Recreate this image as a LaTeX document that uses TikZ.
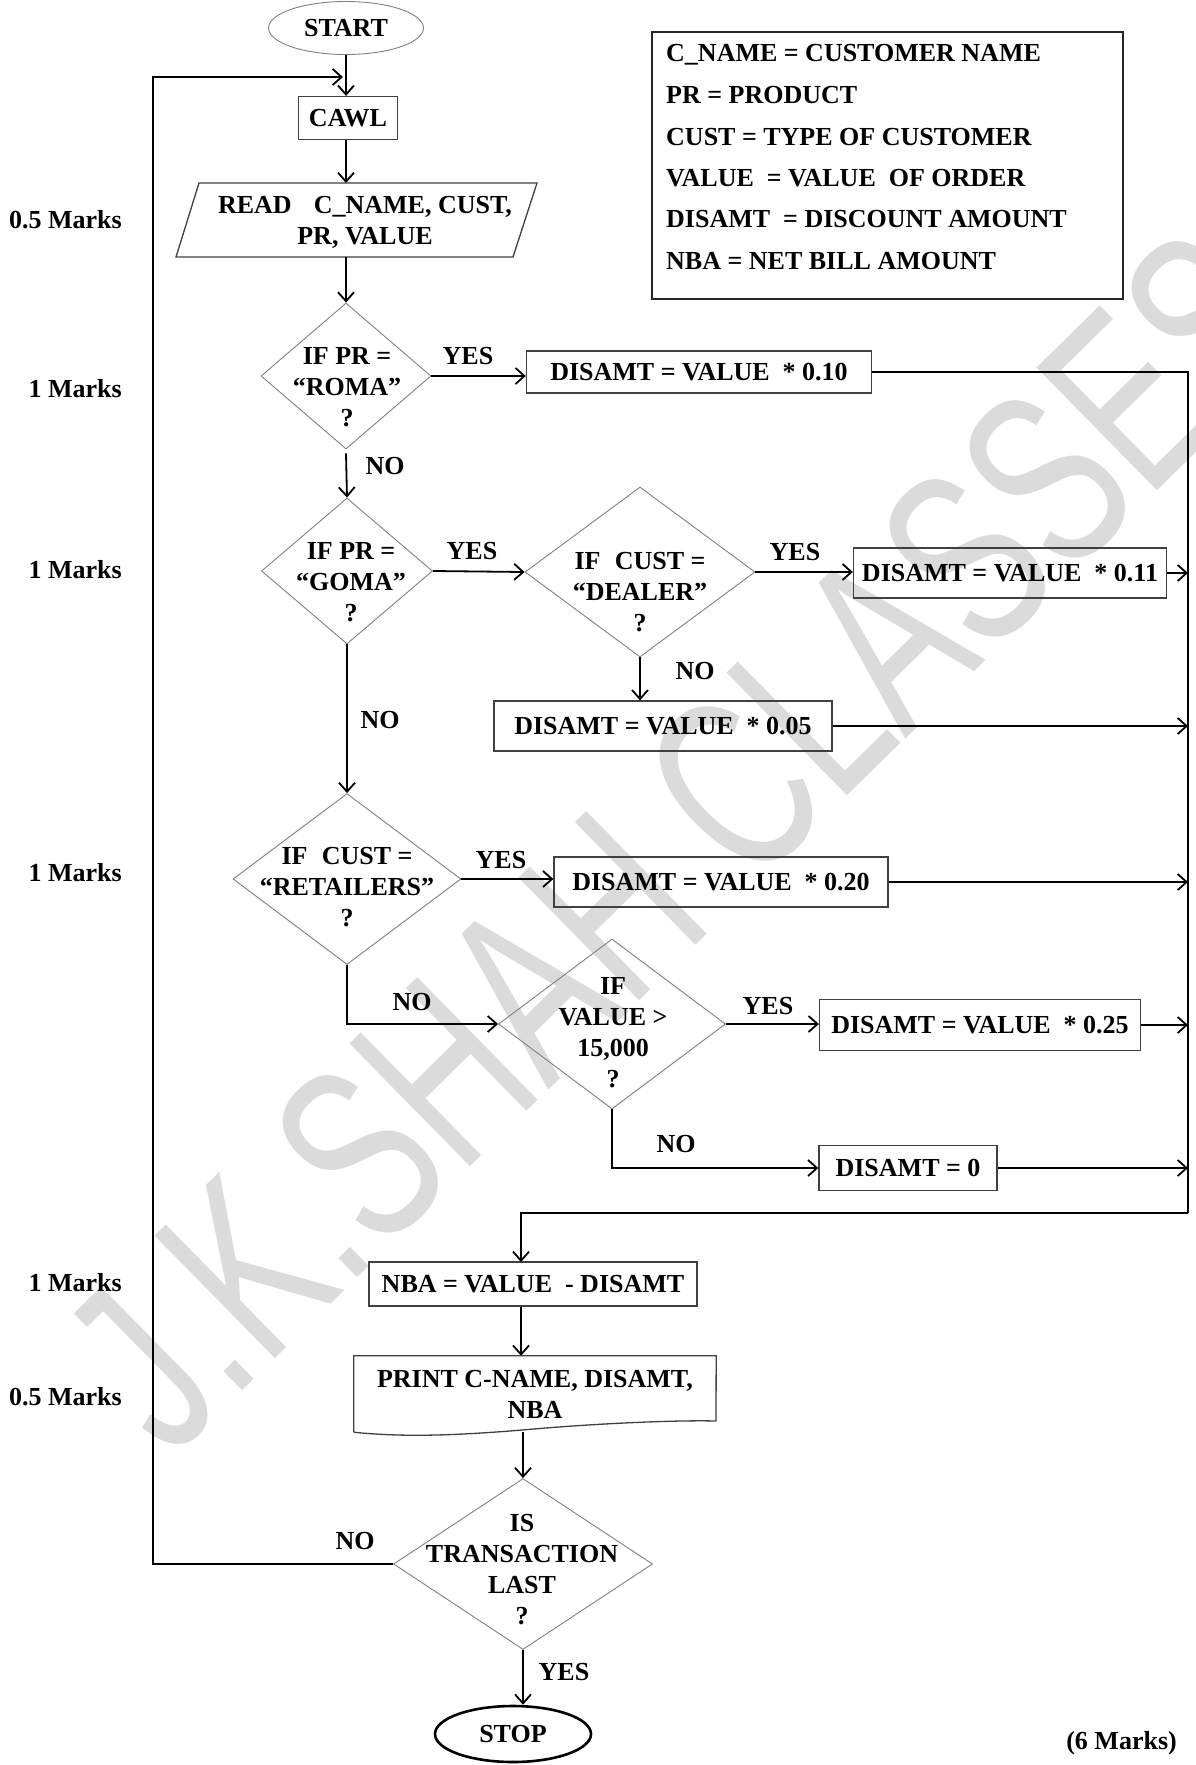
\documentclass[tikz,border=0pt]{standalone}
\usepackage{fontspec}
\setmainfont{Liberation Serif}
\newfontfamily\wmfont{Liberation Sans}
\usetikzlibrary{arrows.meta,shapes.geometric}
\begin{document}
\begin{tikzpicture}[x=1pt,y=-1pt,
  every node/.style={font=\fontsize{26}{31}\selectfont\bfseries, inner sep=0pt, align=center},
  lbl/.style={text height=17.2pt, text depth=0pt},
  arr/.style={line width=1.8pt, -{Straight Barb[length=9pt,width=16pt]}},
  ln/.style={line width=1.8pt},
  procbox/.style={draw=black!75, line width=1.3pt, rectangle, text height=17.2pt, text depth=0pt},
  decision/.style={draw=black!50, line width=0.9pt, diamond},
  outline/.style={draw=black!75, line width=1.3pt},
  ]
\useasboundingbox (0,0) rectangle (1196,1765);
\fill[white] (0,0) rectangle (1196,1765);

% watermark
\node[rotate=44.5, xscale=0.68, text=black!14, font=\fontsize{250}{250}\selectfont\wmfont] (wm) at (680,840) {J.K.SHAH CLASSES};

% legend
\node[draw=black!85, line width=1.6pt, minimum width=471pt, minimum height=267pt] (legend) at (887.5,165.5) {};
\node[lbl, anchor=west] (leg1) at (666,53) {C\_NAME = CUSTOMER NAME};
\node[lbl, anchor=west] (leg2) at (666,95) {PR = PRODUCT};
\node[lbl, anchor=west] (leg3) at (666,137) {CUST = TYPE OF CUSTOMER};
\node[lbl, anchor=west] (leg4) at (666,178) {VALUE~ = VALUE~ OF ORDER};
\node[lbl, anchor=west] (leg5) at (666,219) {DISAMT~ = DISCOUNT AMOUNT};
\node[lbl, anchor=west] (leg6) at (666,261) {NBA = NET BILL AMOUNT};

% marks
\node[lbl, anchor=east] (m1) at (122,220) {0.5 Marks};
\node[lbl, anchor=east] (m2) at (122,389) {1 Marks};
\node[lbl, anchor=east] (m3) at (122,570) {1 Marks};
\node[lbl, anchor=east] (m4) at (122,873) {1 Marks};
\node[lbl, anchor=east] (m5) at (122,1283) {1 Marks};
\node[lbl, anchor=east] (m6) at (122,1397) {0.5 Marks};
\node[lbl, anchor=east] (m7) at (1177,1741) {(6 Marks)};

% start / cawl
\node[draw=black!50, line width=0.9pt, ellipse, minimum width=155pt, minimum height=53pt, lbl] (start) at (346,28) {START};
\node[procbox, minimum width=99pt, minimum height=43pt] (cawl) at (348,118) {CAWL};

% read
\coordinate (readtop) at (346,183);
\coordinate (readbot) at (346,257);
\draw[outline] (199,183) -- (537,183) -- (513,257) -- (176,257) -- cycle;
\node (read) at (365,222) {READ\hspace{0.6em} C\_NAME, CUST,\\PR, VALUE};

% decisions
\node[decision, minimum width=170pt, minimum height=146pt] (roma) at (346,376) {};
\node (romat) at (347,387) {IF PR =\\“ROMA”\\?};
\node[decision, minimum width=171pt, minimum height=146pt] (goma) at (347,571) {};
\node (gomat) at (351,582) {IF PR =\\“GOMA”\\?};
\node[decision, minimum width=230pt, minimum height=170pt] (dealer) at (640,572) {};
\node (dealert) at (640,592) {IF\hspace{0.3em} CUST =\\“DEALER”\\?};
\node[decision, minimum width=228pt, minimum height=171pt] (ret) at (347,879) {};
\node (rett) at (347,887) {IF\hspace{0.3em} CUST =\\“RETAILERS”\\?};
\node[decision, minimum width=227pt, minimum height=170pt] (val) at (612,1024) {};
\node (valt) at (613,1033) {IF\\VALUE \textgreater\\15,000\\?};
\node[decision, minimum width=259pt, minimum height=171pt] (lastd) at (523,1564) {};
\node (lastt) at (522,1570) {IS\\TRANSACTION\\LAST\\?};

% process boxes
\node[procbox, minimum width=345pt, minimum height=42pt] (d10) at (699,372) {DISAMT = VALUE~ * 0.10};
\node[procbox, minimum width=313pt, minimum height=50pt] (d11) at (1010,573) {DISAMT = VALUE~ * 0.11};
\node[procbox, minimum width=338pt, minimum height=50pt] (d05) at (663,726) {DISAMT = VALUE~ * 0.05};
\node[procbox, minimum width=334pt, minimum height=50pt] (d20) at (721,882) {DISAMT = VALUE~ * 0.20};
\node[procbox, minimum width=321pt, minimum height=51pt] (d25) at (980,1025) {DISAMT = VALUE~ * 0.25};
\node[procbox, minimum width=178pt, minimum height=45pt] (d0) at (908,1168) {DISAMT = 0};
\node[procbox, minimum width=328pt, minimum height=44pt] (nba) at (533,1284) {NBA = VALUE~ - DISAMT};

% print (document shape)
\node[minimum width=362pt, minimum height=76pt] (print) at (535,1394) {PRINT C-NAME, DISAMT,\\NBA};
\draw[outline] (print.south west) -- (print.north west) -- (print.north east) -- (716,1421)
  .. controls (680,1420) and (600,1423) .. (522,1430)
  .. controls (450,1436) and (400,1437) .. (print.south west);

% stop
\node[draw=black, line width=2.6pt, ellipse, minimum width=156pt, minimum height=56pt, lbl] (stop) at (513,1734) {STOP};

% coordinates
\coordinate (loopin) at (343,77);
\coordinate (looptl) at (153,77);
\coordinate (rtop) at (1188,371);
\coordinate (rbot) at (1188,1213);
\coordinate (nbain) at (521,1262);
\coordinate (printout) at (523,1432);

% connectors
\draw[arr] (start.south) -- (start.south |- cawl.north);
\draw[arr] (cawl.south -| readtop) -- (readtop);
\draw[arr] (readbot) -- (roma.north);
\draw[arr] (roma.east) -- (roma.east -| d10.west);
\draw[arr] ([yshift=-4pt]roma.south) -- (goma.north);
\draw[arr] (goma.east) -- (dealer.west);
\draw[arr] (dealer.east) -- (dealer.east -| d11.west);
\draw[arr] (dealer.south) -- (dealer.south |- d05.north);
\draw[arr] (goma.south) -- (ret.north);
\draw[arr] (ret.east) -- (ret.east -| d20.west);
\draw[arr] (ret.south) |- (val.west);
\draw[arr] (val.east) -- (val.east -| d25.west);
\draw[arr] (val.south) |- (d0.west);

\draw[ln] (d10.east) -- (d10.east -| rtop) -- (rbot);
\draw[arr] (rbot) -| (nbain);
\draw[arr] (d11.east) -- (d11.east -| rtop);
\draw[arr] (d05.east) -- (d05.east -| rtop);
\draw[arr] (d20.east) -- (d20.east -| rtop);
\draw[arr] (d25.east) -- (d25.east -| rtop);
\draw[arr] (d0.east) -- (d0.east -| rtop);

\draw[arr] (nba.south -| nbain) -- (print.north -| nbain);
\draw[arr] (printout) -- (lastd.north);
\draw[arr] (lastd.south) -- (lastd.south |- stop.north);
\draw[arr] (lastd.west) -| (looptl) -- (loopin);

% labels
\node[lbl] (y1) at (468,356) {YES};
\node[lbl] (n1) at (385,466) {NO};
\node[lbl] (y2) at (472,551) {YES};
\node[lbl] (y3) at (795,552) {YES};
\node[lbl] (n3) at (695,671) {NO};
\node[lbl] (n2) at (380,720) {NO};
\node[lbl] (y4) at (501,860) {YES};
\node[lbl] (n4) at (412,1002) {NO};
\node[lbl] (y5) at (768,1006) {YES};
\node[lbl] (n5) at (676,1144) {NO};
\node[lbl] (n6) at (355,1541) {NO};
\node[lbl] (y6) at (564,1672) {YES};
\end{tikzpicture}
\end{document}
